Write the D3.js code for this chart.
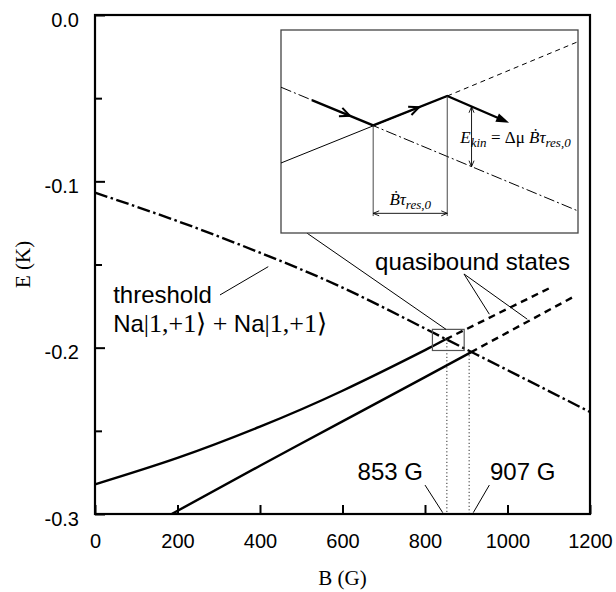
<!DOCTYPE html>
<html>
<head>
<meta charset="utf-8">
<script src="https://cdn.jsdelivr.net/npm/d3@7/dist/d3.min.js"></script>
<style>
body{margin:0;background:#fff;}
svg{display:block;}
.sans{font-family:"Liberation Sans",Arial,sans-serif;}
.serif{font-family:"Liberation Serif","Times New Roman",serif;}
</style>
</head>
<body>
<div id="chart"></div>
<script>
// ---- data (B in gauss, E in kelvin) ----
var bTicks=[0,200,400,600,800,1000,1200];
var eTicks=[0,-0.1,-0.2,-0.3];
var eMinorTicks=[-0.05,-0.15,-0.25];

var thresholdB=[0,200,400,600,800,1000,1200];
var thresholdE=[-0.1068,-0.1239,-0.1429,-0.1639,-0.1885,-0.2135,-0.2387];

var upperB=[0,200,400,600,800,850];
var upperE=[-0.2822,-0.2663,-0.2475,-0.2259,-0.2015,-0.1950];
var upperDashB=[850,1109];
var upperDashE=[-0.1950,-0.1633];

var lowerB=[186,400,600,800,911];
var lowerE=[-0.300,-0.2710,-0.2443,-0.2177,-0.2028];
var lowerDashB=[911,1160];
var lowerDashE=[-0.2028,-0.1694];

var resonanceB=[853,907];
var resonanceE=[-0.1950,-0.2025];
var resonanceLabels=["853 G","907 G"];

// zoomed region shown in the inset
var zoomB=[818,895];
var zoomE=[-0.1890,-0.2017];

// inset (schematic) lines, in the zoomed B/E units
var insThrB=[818,895],insThrE=[-0.19258,-0.20032];
var insUpB=[818,861.1],insUpE=[-0.19732,-0.19313];
var insUpDashB=[861.1,895],insUpDashE=[-0.19313,-0.18973];
var pathB=[826.0,841.9,861.1,876.1];
var pathE=[-0.19339,-0.19497,-0.19313,-0.19469];

(function(){
	var W=616,H=592;
	var left=95,top=15,right=590,bottom=514;

	var x=d3.scaleLinear().domain([0,1200]).range([left,right]);
	var y=d3.scaleLinear().domain([0,-0.3]).range([top,bottom]);

	var svg=d3.select("#chart").append("svg").attr("width",W).attr("height",H);

	function pairs(a,b){return a.map(function(d,i){return [d,b[i]];});}
	var line=d3.line().x(function(d){return x(d[0]);}).y(function(d){return y(d[1]);}).curve(d3.curveNatural);

	// axes with inward ticks
	var gx=svg.append("g").attr("transform","translate(0,"+bottom+")")
		.call(d3.axisBottom(x).tickValues(bTicks).tickSize(-9).tickPadding(0).tickFormat(function(d){return d;}));
	gx.selectAll("text").attr("class","sans").attr("font-size",20).attr("fill","#000").attr("y",34).attr("dy",0);
	var gy=svg.append("g").attr("transform","translate("+left+",0)")
		.call(d3.axisLeft(y).tickValues(eTicks).tickSize(-10).tickPadding(16).tickFormat(function(d){return d.toFixed(1);}));
	gy.selectAll("text").attr("class","sans").attr("font-size",20).attr("fill","#000").attr("dy",0).attr("y",11);
	var gy2=svg.append("g").attr("transform","translate("+left+",0)")
		.call(d3.axisLeft(y).tickValues(eMinorTicks).tickSize(-7).tickFormat(""));
	svg.selectAll(".domain").remove();
	svg.selectAll(".tick line").attr("stroke","#000").attr("stroke-width",2);

	svg.append("rect").attr("x",left).attr("y",top).attr("width",right-left).attr("height",bottom-top)
		.attr("fill","none").attr("stroke","#000").attr("stroke-width",2.2);

	// axis titles
	svg.append("text").attr("class","serif").attr("font-size",21).attr("text-anchor","middle")
		.attr("x",(left+right)/2).attr("y",585).text("B (G)");
	svg.append("text").attr("class","serif").attr("font-size",21).attr("text-anchor","middle")
		.attr("transform","translate(30,"+((top+bottom)/2)+") rotate(-90)").text("E (K)");

	// resonance markers
	resonanceB.forEach(function(b,i){
		svg.append("line").attr("x1",x(b)).attr("x2",x(b)).attr("y1",y(resonanceE[i])).attr("y2",bottom)
			.attr("stroke","#000").attr("stroke-width",1).attr("stroke-dasharray","1,2.5");
	});

	// curves
	svg.append("path").attr("d",line(pairs(thresholdB,thresholdE))).attr("fill","none")
		.attr("stroke","#000").attr("stroke-width",2.4).attr("stroke-dasharray","13,3.5,2.5,3.5");
	svg.append("path").attr("d",line(pairs(upperB,upperE))).attr("fill","none").attr("stroke","#000").attr("stroke-width",2.4);
	svg.append("path").attr("d",line(pairs(lowerB,lowerE))).attr("fill","none").attr("stroke","#000").attr("stroke-width",2.4);
	svg.append("path").attr("d",line(pairs(upperDashB,upperDashE))).attr("fill","none")
		.attr("stroke","#000").attr("stroke-width",2.4).attr("stroke-dasharray","7,5");
	svg.append("path").attr("d",line(pairs(lowerDashB,lowerDashE))).attr("fill","none")
		.attr("stroke","#000").attr("stroke-width",2.4).attr("stroke-dasharray","7,5");

	// small zoom box
	svg.append("rect").attr("x",x(zoomB[0])).attr("y",y(zoomE[0]))
		.attr("width",x(zoomB[1])-x(zoomB[0])).attr("height",y(zoomE[1])-y(zoomE[0]))
		.attr("fill","none").attr("stroke","#555").attr("stroke-width",1.2);

	// annotations
	function leader(b1,e1,b2,e2){
		svg.append("line").attr("x1",x(b1)).attr("y1",y(e1)).attr("x2",x(b2)).attr("y2",y(e2))
			.attr("stroke","#000").attr("stroke-width",1);
	}
	svg.append("text").attr("class","sans").attr("font-size",24).attr("x",x(44)).attr("y",y(-0.1733)).text("threshold");
	var ket=svg.append("text").attr("x",x(44)).attr("y",y(-0.1904)).attr("font-size",24);
	ket.append("tspan").attr("class","sans").text("Na");
	ket.append("tspan").attr("class","serif").attr("font-size",26).text("|1,+1\u27E9 + ");
	ket.append("tspan").attr("class","sans").text("Na");
	ket.append("tspan").attr("class","serif").attr("font-size",26).text("|1,+1\u27E9");
	leader(303,-0.1683,420,-0.1513);

	svg.append("text").attr("class","sans").attr("font-size",24).attr("x",x(679)).attr("y",y(-0.1533)).text("quasibound states");
	leader(894.5,-0.1557,956,-0.1799);
	leader(894.5,-0.1557,1048,-0.1829);

	svg.append("text").attr("class","sans").attr("font-size",24).attr("text-anchor","end")
		.attr("x",x(795)).attr("y",y(-0.2796)).text(resonanceLabels[0]);
	svg.append("text").attr("class","sans").attr("font-size",24)
		.attr("x",x(957.6)).attr("y",y(-0.2796)).text(resonanceLabels[1]);
	leader(800,-0.2826,843,-0.2992);
	leader(956,-0.2826,917,-0.2992);

	// ---- inset ----
	var ix=d3.scaleLinear().domain(zoomB).range([281,578]);
	var iy=d3.scaleLinear().domain(zoomE).range([30,233]);
	var iline=d3.line().x(function(d){return ix(d[0]);}).y(function(d){return iy(d[1]);});

	// connector from inset to small box
	svg.append("line").attr("x1",ix(824.7)).attr("y1",iy(zoomE[1])).attr("x2",x(851)).attr("y2",y(zoomE[0]))
		.attr("stroke","#000").attr("stroke-width",1);

	var inset=svg.append("g");
	inset.append("rect").attr("x",ix(zoomB[0])).attr("y",iy(zoomE[0]))
		.attr("width",ix(zoomB[1])-ix(zoomB[0])).attr("height",iy(zoomE[1])-iy(zoomE[0]))
		.attr("fill","#fff").attr("stroke","#444").attr("stroke-width",1.3);

	inset.append("path").attr("d",iline(pairs(insThrB,insThrE))).attr("fill","none")
		.attr("stroke","#000").attr("stroke-width",1).attr("stroke-dasharray","11,3,2,3");
	inset.append("path").attr("d",iline(pairs(insUpB,insUpE))).attr("fill","none").attr("stroke","#000").attr("stroke-width",1);
	inset.append("path").attr("d",iline(pairs(insUpDashB,insUpDashE))).attr("fill","none")
		.attr("stroke","#000").attr("stroke-width",1).attr("stroke-dasharray","5,4");

	var pts=pairs(pathB,pathE).map(function(d){return [ix(d[0]),iy(d[1])];});
	inset.append("path").attr("d",d3.line()(pts)).attr("fill","none").attr("stroke","#000").attr("stroke-width",2.3);

	function head(tx,ty,ang,len,half){
		var bx=tx-len*Math.cos(ang),by=ty-len*Math.sin(ang);
		var px=-Math.sin(ang)*half,py=Math.cos(ang)*half;
		return [[bx+px,by+py],[tx,ty],[bx-px,by-py]];
	}
	// open chevrons along the path
	[0,1].forEach(function(k){
		var a=pts[k],b=pts[k+1];
		var ang=Math.atan2(b[1]-a[1],b[0]-a[0]);
		var t=0.62;
		var tx=a[0]+(b[0]-a[0])*t,ty=a[1]+(b[1]-a[1])*t;
		inset.append("path").attr("d",d3.line()(head(tx,ty,ang,10,4.5))).attr("fill","none")
			.attr("stroke","#000").attr("stroke-width",2);
	});
	// filled end arrow
	var a3=pts[2],b3=pts[3];
	var ang3=Math.atan2(b3[1]-a3[1],b3[0]-a3[0]);
	inset.append("path").attr("d",d3.line()(head(b3[0]+4,b3[1]+4*Math.tan(ang3),ang3,13,4.5))+"Z").attr("fill","#000");

	// vertical guides and double arrows
	var guideBottom=-0.20064,hArrowE=-0.20047;
	[pathB[1],pathB[2]].forEach(function(b,i){
		inset.append("line").attr("x1",ix(b)).attr("x2",ix(b)).attr("y1",iy(pathE[i+1])).attr("y2",iy(guideBottom))
			.attr("stroke","#333").attr("stroke-width",0.9);
	});
	function dbl(x1,y1,x2,y2){
		var ang=Math.atan2(y2-y1,x2-x1);
		inset.append("line").attr("x1",x1).attr("y1",y1).attr("x2",x2).attr("y2",y2).attr("stroke","#000").attr("stroke-width",0.9);
		inset.append("path").attr("d",d3.line()(head(x2,y2,ang,6,2.5))).attr("fill","none").attr("stroke","#000").attr("stroke-width",0.9);
		inset.append("path").attr("d",d3.line()(head(x1,y1,ang+Math.PI,6,2.5))).attr("fill","none").attr("stroke","#000").attr("stroke-width",0.9);
	}
	dbl(ix(pathB[1]),iy(hArrowE),ix(pathB[2]),iy(hArrowE));
	dbl(ix(867.4),iy(-0.1938),ix(867.4),iy(-0.19755));

	var t1=inset.append("text").attr("class","serif").attr("font-size",17).attr("font-style","italic")
		.attr("text-anchor","middle").attr("x",ix((pathB[1]+pathB[2])/2)).attr("y",iy(-0.19995));
	t1.append("tspan").text("\u1E02\u03C4");
	t1.append("tspan").attr("font-size",13).attr("dy",4).text("res,0");

	var t2=inset.append("text").attr("class","serif").attr("font-size",17).attr("font-style","italic")
		.attr("x",ix(864.5)).attr("y",iy(-0.19610));
	t2.append("tspan").text("E");
	t2.append("tspan").attr("font-size",13).attr("dy",4).text("kin");
	t2.append("tspan").attr("dy",-4).attr("font-style","normal").text(" = \u0394\u03BC ");
	t2.append("tspan").text("\u1E02\u03C4");
	t2.append("tspan").attr("font-size",13).attr("dy",4).text("res,0");
})();
</script>
</body>
</html>
